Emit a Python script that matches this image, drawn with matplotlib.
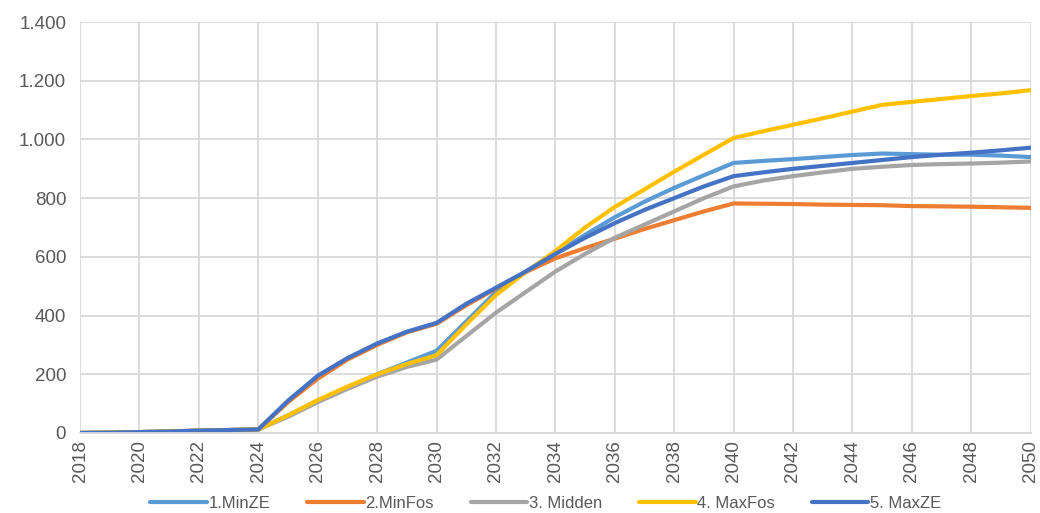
import matplotlib.pyplot as plt
from matplotlib.ticker import FuncFormatter

years = list(range(2018, 2051))
start = [0, 1, 3, 5, 8, 10, 12]  # 2018..2024, same for all scenarios

min_ze = start + [60, 110, 155, 200, 240, 280, 380, 480, 550, 612, 675, 735, 788, 835, 878, 920,
                  927, 933, 940, 947, 952, 950, 948, 948, 945, 940]
min_fos = start + [105, 185, 250, 300, 343, 372, 435, 492, 548, 595, 630, 662, 695, 725, 755, 782,
                   781, 780, 778, 777, 776, 773, 772, 771, 769, 767]
midden = start + [55, 105, 150, 192, 225, 250, 330, 410, 480, 550, 610, 665, 710, 755, 800, 840,
                  860, 875, 888, 900, 907, 913, 916, 918, 921, 925]
max_fos = start + [60, 112, 158, 200, 235, 265, 370, 470, 548, 620, 700, 770, 830, 890, 948, 1005,
                   1028, 1050, 1072, 1095, 1118, 1128, 1138, 1148, 1157, 1168]
max_ze = start + [110, 195, 255, 305, 345, 375, 440, 495, 550, 610, 665, 715, 760, 800, 840, 875,
                  888, 900, 910, 920, 930, 940, 948, 955, 963, 972]

series = [('1.MinZE', min_ze, '#5B9BD5'),
          ('2.MinFos', min_fos, '#ED7D31'),
          ('3. Midden', midden, '#A5A5A5'),
          ('4. MaxFos', max_fos, '#FFC000'),
          ('5. MaxZE', max_ze, '#4472C4')]

plt.rcParams['font.family'] = ['Liberation Sans', 'DejaVu Sans']

fig = plt.figure(figsize=(10.4, 5.13), dpi=100)
ax = fig.add_axes([0.077, 0.156, 0.914, 0.801])

for name, vals, col in series:
    ax.plot(years, vals, color=col, lw=3, label=name, solid_capstyle='round')

ax.set_xlim(2018, 2050)
ax.set_ylim(0, 1400)
ax.set_xticks(range(2018, 2051, 2))
ax.set_yticks(range(0, 1401, 200))
ax.yaxis.set_major_formatter(FuncFormatter(lambda v, p: '{:,.0f}'.format(v).replace(',', '.')))
ax.tick_params(axis='x', rotation=90, length=0, labelsize=13.5, colors='#595959', pad=5)
ax.tick_params(axis='y', length=0, labelsize=13.5, colors='#595959', pad=10)
ax.grid(True, color='#D9D9D9', lw=1.3)
ax.set_axisbelow(True)
for s in ['top', 'right', 'left']:
    ax.spines[s].set_visible(False)
ax.spines['bottom'].set_color('#D9D9D9')
ax.spines['bottom'].set_linewidth(1.3)

ax.legend(loc='lower center', bbox_to_anchor=(0.49, -0.19), bbox_transform=ax.transAxes,
          ncol=5, frameon=False, fontsize=12, labelcolor='#595959', handlelength=3.4,
          columnspacing=2.2, handletextpad=0.1, borderaxespad=0, borderpad=0)

fig.savefig('out.png', dpi=100)
